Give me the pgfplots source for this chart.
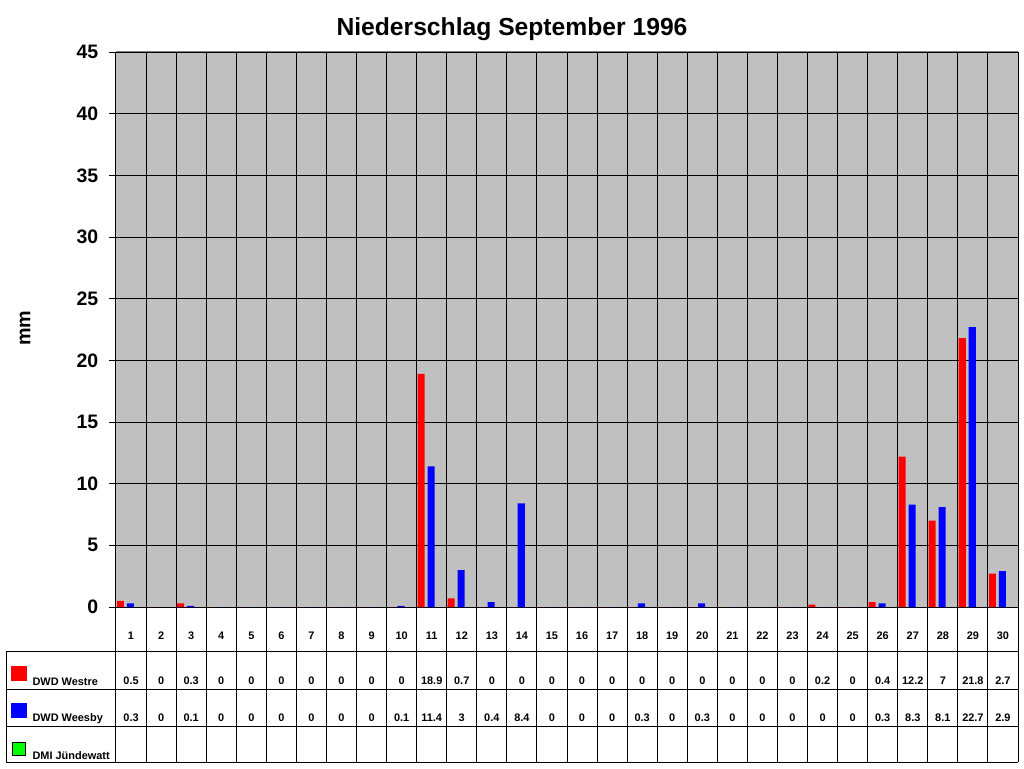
\documentclass[border=0pt]{standalone}
\usepackage{pgfplots}
\pgfplotsset{compat=1.18}
\usepackage{pgfplotstable}
\usepackage{fontspec}
\setmainfont{Liberation Sans}
\definecolor{plotgray}{HTML}{C0C0C0}
\definecolor{bordergray}{HTML}{808080}
\definecolor{xred}{RGB}{255,0,0}
\definecolor{xblue}{RGB}{0,0,255}
\definecolor{xgreen}{RGB}{0,255,0}

\pgfplotstableread{
day west wees
1 0.5 0.3
2 0 0
3 0.3 0.1
4 0 0
5 0 0
6 0 0
7 0 0
8 0 0
9 0 0
10 0 0.1
11 18.9 11.4
12 0.7 3
13 0 0.4
14 0 8.4
15 0 0
16 0 0
17 0 0
18 0 0.3
19 0 0
20 0 0.3
21 0 0
22 0 0
23 0 0
24 0.2 0
25 0 0
26 0.4 0.3
27 12.2 8.3
28 7 8.1
29 21.8 22.7
30 2.7 2.9
}\data

\newcommand{\tabfont}{\fontsize{8.2}{9.5}\selectfont\bfseries}

\begin{document}
\begin{tikzpicture}
\path[use as bounding box] (-87pt,-120.75pt) rectangle (681pt,455.25pt);
\begin{axis}[
  at={(0pt,0pt)}, anchor=south west,
  scale only axis, width=676.5pt, height=416.25pt,
  xmin=0.5, xmax=30.5, ymin=0, ymax=45,
  clip=false,
  axis background/.style={fill=plotgray},
  axis line style={black, line width=0.75pt},
  xtick={1,...,30}, xticklabels={},
  minor xtick={0.5,1.5,...,30.5},
  xminorgrids, minor grid style={black, line width=0.75pt},
  ytick={0,5,...,45}, ymajorgrids, major grid style={black, line width=0.75pt},
  tick align=outside, xtick pos=bottom, ytick pos=left,
  major x tick style={draw=none},
  minor x tick style={black, line width=0.75pt},
  minor tick length=116.5pt,
  major tick length=5.25pt,
  major y tick style={black, line width=0.75pt},
  /pgf/number format/assume math mode=true,
  yticklabel style={font=\fontsize{14.6}{16}\selectfont\bfseries, anchor=east, xshift=-4.5pt},
  every node near coord/.append style={text=black, font=\tabfont},
  nodes near coords align={center},
]
\addplot[ybar, bar width=5.3pt, bar shift=-8pt, fill=xred, draw=none] table[x=day, y=west] {\data};
\addplot[ybar, bar width=5.3pt, bar shift=-0.5pt, fill=xblue, draw=none] table[x=day, y=wees] {\data};
% table rows
\addplot[only marks, mark=*, mark size=0pt, mark options={draw=none, fill=none}, nodes near coords, point meta=explicit symbolic, forget plot] table[x=day, y expr=-2.31, meta=day] {\data};
\addplot[only marks, mark=*, mark size=0pt, mark options={draw=none, fill=none}, nodes near coords, point meta=explicit symbolic, forget plot] table[x=day, y expr=-6.0, meta=west] {\data};
\addplot[only marks, mark=*, mark size=0pt, mark options={draw=none, fill=none}, nodes near coords, point meta=explicit symbolic, forget plot] table[x=day, y expr=-9.0, meta=wees] {\data};
\end{axis}
\begin{scope}[x=0.75pt, y=-0.75pt, shift={(-87pt,455.25pt)}]
  % top border gray
  \draw[bordergray, line width=0.75pt] (116,52) -- (1018,52);
  % table lines
  \draw[black, line width=0.75pt] (6.3,651.7) -- (1018,651.7);
  \draw[black, line width=0.75pt] (6.3,689.3) -- (1018,689.3);
  \draw[black, line width=0.75pt] (6.3,726.7) -- (1018,726.7);
  \draw[black, line width=0.75pt] (6.3,762.3) -- (1018,762.3);
  \draw[black, line width=0.75pt] (6.3,651.7) -- (6.3,762.3);
  % legend keys
  \fill[xred] (11.3,666) rectangle (27,681.3);
  \fill[xblue] (11.3,703.3) rectangle (27,718.3);
  \filldraw[fill=xgreen, draw=black, line width=0.75pt] (12.3,742) rectangle (25.7,755.3);
  \node[anchor=base west, inner sep=0pt, font=\tabfont] at (32.3,685) {DWD Westre};
  \node[anchor=base west, inner sep=0pt, font=\tabfont] at (32.3,721.7) {DWD Weesby};
  \node[anchor=base west, inner sep=0pt, font=\tabfont] at (32.3,759) {DMI Jündewatt};
  % title and y label
  \node[anchor=base, inner sep=0pt, font=\fontsize{18.5}{20}\selectfont\bfseries] at (512,36) {Niederschlag September 1996};
  \node[rotate=90, inner sep=0pt, font=\fontsize{14.8}{16}\selectfont\bfseries] at (25,328) {mm};
\end{scope}
\end{tikzpicture}
\end{document}
